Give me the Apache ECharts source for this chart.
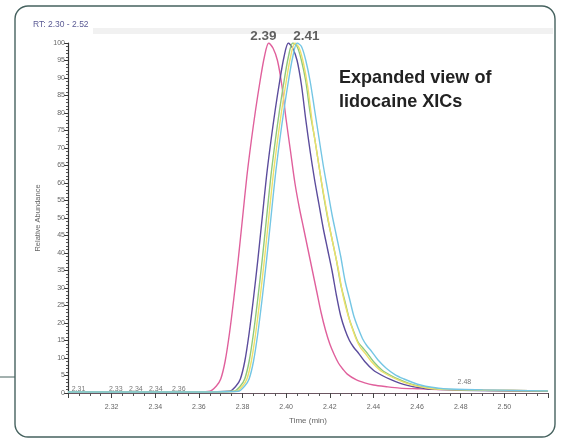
<!DOCTYPE html>
<html>
<head>
<meta charset="utf-8">
<script src="https://cdn.jsdelivr.net/npm/echarts@6/dist/echarts.min.js"></script>
<style>
  html, body { margin: 0; padding: 0; background: #fff; }
  #chart { width: 564px; height: 438px; }
</style>
</head>
<body>
<div id="chart"></div>
<script>
// XIC traces, [time (min), relative abundance %]
const pinkTrace = [
  [2.300, 0.3], [2.310, 0.4], [2.330, 0.3], [2.350, 0.3], [2.360, 0.3], [2.365, 0.5],
  [2.368, 2], [2.370, 4], [2.372, 9], [2.374, 17], [2.376, 27], [2.378, 38], [2.380, 50],
  [2.382, 62], [2.384, 72], [2.386, 81], [2.388, 89], [2.390, 96], [2.392, 100],
  [2.394, 98.5], [2.396, 95], [2.398, 88], [2.400, 78], [2.402, 69], [2.404, 60], [2.406, 53],
  [2.408, 47], [2.410, 41], [2.412, 35], [2.414, 29], [2.416, 23], [2.418, 18], [2.420, 14],
  [2.422, 11], [2.424, 8.5], [2.426, 6.8], [2.428, 5.4], [2.432, 3.8], [2.436, 2.9],
  [2.440, 2.3], [2.446, 1.8], [2.452, 1.4], [2.460, 1.2], [2.470, 1.0], [2.490, 0.8], [2.520, 0.6]
];
const purpleTrace = [
  [2.300, 0.3], [2.360, 0.3], [2.374, 0.5], [2.377, 2], [2.379, 4], [2.381, 9], [2.383, 17],
  [2.385, 27], [2.387, 38], [2.389, 50], [2.391, 62], [2.393, 72], [2.395, 81], [2.397, 89],
  [2.399, 96], [2.401, 100], [2.403, 98.5], [2.405, 95], [2.407, 88], [2.409, 78], [2.411, 69],
  [2.413, 61], [2.415, 54], [2.417, 47], [2.419, 41], [2.421, 35], [2.423, 28], [2.425, 22],
  [2.427, 18], [2.429, 15], [2.431, 13], [2.433, 11.5], [2.436, 9], [2.440, 6.5], [2.444, 5],
  [2.448, 3.8], [2.452, 2.8], [2.456, 2.1], [2.460, 1.6], [2.466, 1.1], [2.480, 0.8], [2.520, 0.5]
];
const greenTrace = [
  [2.300, 0.3], [2.360, 0.3], [2.376, 0.5], [2.379, 2], [2.381, 4], [2.383, 9], [2.385, 17],
  [2.387, 27], [2.389, 38], [2.391, 50], [2.393, 62], [2.395, 72], [2.397, 81], [2.399, 89],
  [2.401, 96], [2.403, 100], [2.405, 99], [2.407, 95], [2.409, 89], [2.411, 80], [2.413, 73],
  [2.415, 65], [2.417, 57], [2.419, 50], [2.421, 44], [2.423, 38], [2.425, 31], [2.427, 26],
  [2.429, 21], [2.431, 17.5], [2.433, 14.5], [2.435, 13], [2.437, 11.5], [2.440, 9], [2.444, 6.5],
  [2.448, 5], [2.452, 3.8], [2.456, 2.8], [2.460, 2.1], [2.464, 1.6], [2.470, 1.1], [2.490, 0.8], [2.520, 0.6]
];
const yellowTrace = [
  [2.300, 0.3], [2.360, 0.3], [2.377, 0.5], [2.380, 2], [2.382, 4], [2.384, 9], [2.386, 17],
  [2.388, 27], [2.390, 38], [2.392, 50], [2.394, 62], [2.396, 72], [2.398, 81], [2.400, 89],
  [2.402, 96], [2.404, 100], [2.406, 98.5], [2.408, 94], [2.410, 87], [2.412, 77], [2.414, 69],
  [2.416, 61], [2.418, 54], [2.420, 47], [2.422, 41], [2.424, 35], [2.426, 28], [2.428, 23],
  [2.430, 19], [2.432, 15.5], [2.434, 13], [2.436, 11.5], [2.439, 9], [2.443, 6.5], [2.447, 5],
  [2.451, 3.8], [2.455, 2.8], [2.459, 2.1], [2.463, 1.6], [2.469, 1.1], [2.490, 0.8], [2.520, 0.6]
];
const cyanTrace = [
  [2.300, 0.3], [2.360, 0.3], [2.378, 0.5], [2.381, 2], [2.383, 4], [2.385, 9], [2.387, 17],
  [2.389, 27], [2.391, 38], [2.393, 50], [2.395, 62], [2.397, 72], [2.399, 81], [2.401, 89],
  [2.403, 96], [2.405, 100], [2.407, 99], [2.409, 95], [2.411, 89], [2.413, 81], [2.415, 73],
  [2.417, 65], [2.419, 58], [2.421, 51], [2.423, 45], [2.425, 39], [2.427, 32], [2.429, 27],
  [2.431, 22], [2.433, 18.5], [2.435, 15.5], [2.437, 13.5], [2.439, 12], [2.442, 9.5], [2.446, 7],
  [2.450, 5.2], [2.454, 4], [2.458, 3], [2.462, 2.2], [2.466, 1.7], [2.472, 1.2], [2.490, 0.9], [2.520, 0.6]
];

// apex labels and small baseline peak labels: [time, abundance, text]
const apexLabels = [[2.3895, 102, '2.39'], [2.4093, 102, '2.41']];
const baselineLabels = [
  [2.3048, 1.2, '2.31'], [2.3219, 1.2, '2.33'], [2.3311, 1.2, '2.34'],
  [2.3402, 1.2, '2.34'], [2.3508, 1.2, '2.36'], [2.4817, 3.2, '2.48']
];

const traces = [
  { name: 'pink', data: pinkTrace, color: '#e0609c' },
  { name: 'purple', data: purpleTrace, color: '#5b4c9c' },
  { name: 'green', data: greenTrace, color: '#8fc97c' },
  { name: 'yellow', data: yellowTrace, color: '#eee06a' },
  { name: 'cyan', data: cyanTrace, color: '#74c6e4' }
];

const chart = echarts.init(document.getElementById('chart'));
const small = { fontFamily: 'Liberation Sans, Arial, sans-serif', fontSize: 7, color: '#666' };

chart.setOption({
  animation: false,
  backgroundColor: '#fff',
  grid: { left: 68, right: 16, top: 43, bottom: 45 },
  xAxis: {
    type: 'value', min: 2.30, max: 2.52, interval: 0.02,
    name: 'Time (min)', nameLocation: 'middle', nameGap: 24,
    nameTextStyle: { ...small, fontSize: 8 },
    axisLine: { lineStyle: { color: '#6a5560', width: 1.2 } },
    axisTick: { length: 5, lineStyle: { color: '#444' } },
    minorTick: { show: true, splitNumber: 4, length: 3, lineStyle: { color: '#555' } },
    axisLabel: { ...small, margin: 11, showMinLabel: false, showMaxLabel: false,
      formatter: v => v.toFixed(2) },
    splitLine: { show: false }
  },
  yAxis: {
    type: 'value', min: 0, max: 100, interval: 5,
    name: 'Relative Abundance', nameLocation: 'middle', nameGap: 26,
    nameTextStyle: { ...small, fontSize: 7.5 },
    axisLine: { show: true, lineStyle: { color: '#333', width: 1.2 } },
    axisTick: { show: true, length: 4, lineStyle: { color: '#333' } },
    minorTick: { show: true, splitNumber: 5, length: 2, lineStyle: { color: '#555' } },
    axisLabel: { ...small, margin: 3 },
    splitLine: { show: false }
  },
  graphic: [
    { type: 'rect', shape: { x: 15, y: 6, width: 540, height: 431, r: 13 },
      style: { fill: 'none', stroke: '#46625f', lineWidth: 1.4 }, z: 0 },
    { type: 'line', shape: { x1: 0, y1: 377, x2: 15, y2: 377 },
      style: { stroke: '#46625f', lineWidth: 1 } },
    { type: 'rect', shape: { x: 93, y: 28, width: 460, height: 6 },
      style: { fill: '#f1f1f1' }, z: 0 },
    { type: 'text', left: 33, top: 20,
      style: { text: 'RT: 2.30 - 2.52', fill: '#5a5a94', font: '8.5px "Liberation Sans", Arial' } },
    { type: 'text', x: 339, y: 66, scaleX: 0.95,
      style: { text: 'Expanded view of\nlidocaine XICs', fill: '#222',
        font: 'bold 19px "Liberation Sans", Arial', lineHeight: 24 } }
  ],
  series: [
    ...traces.map(t => ({
      name: t.name, type: 'line', data: t.data, smooth: 0.3, showSymbol: false,
      lineStyle: { color: t.color, width: 1.4 }, itemStyle: { color: t.color }
    })),
    {
      type: 'scatter', data: apexLabels, symbolSize: 0, clip: false, silent: true,
      label: { show: true, position: 'inside', formatter: p => p.data[2],
        fontFamily: 'Liberation Sans, Arial', fontSize: 13.5, fontWeight: 'bold', color: '#3a3a3a' }
    },
    {
      type: 'scatter', data: baselineLabels, symbolSize: 0, clip: false, silent: true,
      label: { show: true, position: 'inside', formatter: p => p.data[2], ...small, color: '#555' }
    }
  ]
});
</script>
</body>
</html>
